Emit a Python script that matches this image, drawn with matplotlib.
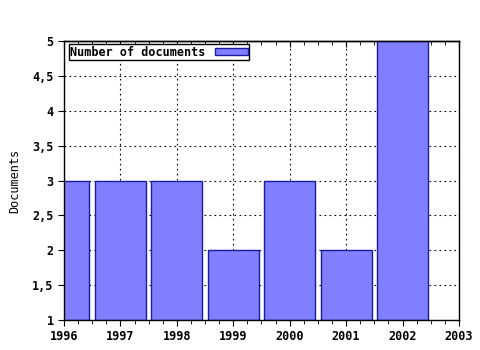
import matplotlib
matplotlib.use("Agg")
import matplotlib.pyplot as plt
from matplotlib.ticker import MultipleLocator, FuncFormatter, NullFormatter

# =========================
# Data
# =========================
years = [1996, 1997, 1998, 1999, 2000, 2001, 2002]
documents = [3, 3, 3, 2, 3, 2, 5]
y_base = 1

plt.rcParams["font.family"] = ["DejaVu Sans Mono"]
plt.rcParams["font.weight"] = "bold"

fig = plt.figure(figsize=(4.8, 3.5), dpi=100)
ax = fig.add_axes([0.1333, 0.0857, 0.8229, 0.7971])

heights = [d - y_base for d in documents]
ax.bar(years, heights, bottom=y_base, width=0.9, color="#8080ff",
       edgecolor="#1a1aa0", linewidth=1.0, zorder=2,
       label="Number of documents")

ax.set_xlim(1996, 2003)
ax.set_ylim(1, 5)

ax.xaxis.set_major_locator(MultipleLocator(1))
ax.xaxis.set_minor_locator(MultipleLocator(0.25))
ax.yaxis.set_major_locator(MultipleLocator(0.5))
ax.yaxis.set_major_formatter(FuncFormatter(lambda v, p: f"{v:g}".replace(".", ",")))

ax.tick_params(axis="x", which="both", direction="out", labelsize=8.5)
ax.tick_params(axis="x", which="major", length=4)
ax.tick_params(axis="x", which="minor", length=3)
ax.tick_params(axis="y", which="major", length=4, labelsize=8.5)

# top ticks pointing inward
top = ax.secondary_xaxis("top")
top.xaxis.set_major_locator(MultipleLocator(1))
top.xaxis.set_minor_locator(MultipleLocator(0.25))
top.xaxis.set_major_formatter(NullFormatter())
top.tick_params(which="major", direction="in", length=4)
top.tick_params(which="minor", direction="in", length=3)
top.spines["top"].set_linewidth(1.0)

ax.grid(True, which="major", color="black", linestyle=(0, (1.5, 3)),
        linewidth=0.8, zorder=0)
ax.set_axisbelow(True)

for s in ax.spines.values():
    s.set_linewidth(1.0)
    s.set_color("black")

ax.set_ylabel("Documents", fontsize=8.5, labelpad=8)

leg = ax.legend(loc="upper left", bbox_to_anchor=(0.012, 0.988),
                markerfirst=False, fancybox=False,
                framealpha=1, edgecolor="black", fontsize=8.5,
                handlelength=2.8, handleheight=0.45, borderpad=0.12,
                borderaxespad=0.0, handletextpad=0.8)
leg.get_frame().set_linewidth(1.0)

fig.savefig("out.png", dpi=100)
